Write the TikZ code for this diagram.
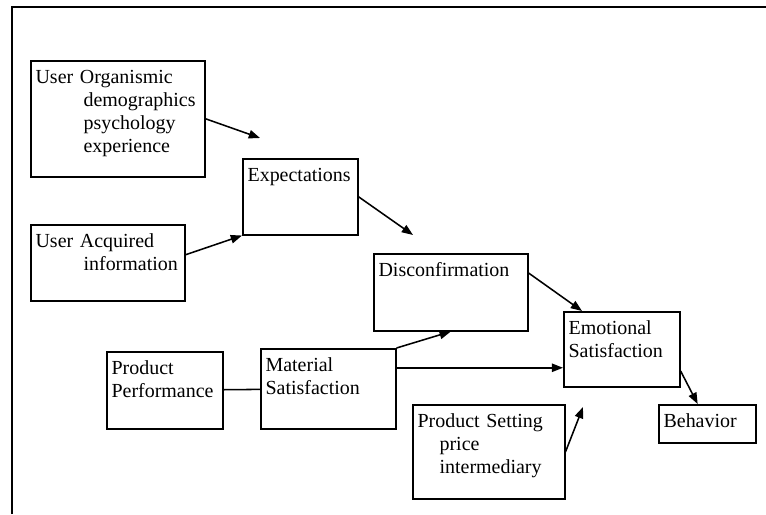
\documentclass[tikz,border=0pt]{standalone}
\usepackage{fontspec}
\setmainfont{Liberation Serif}
\usetikzlibrary{
    arrows.meta,
    positioning
}
\tikzset{
    >={Triangle[length=8pt,width=6pt]},
    box/.style 2 args={draw, anchor=north west, align=left,
        inner xsep=0.12cm, inner ysep=0.1cm,
        text width=#1, text height=0.475cm, text depth=#2,
        font=\fontsize{14.2}{16.3}\selectfont},
}

\begin{document}
\begin{tikzpicture}[line width=1.1pt]
   \useasboundingbox (0,0) rectangle (19.15,12.85);
   \draw (0.3,0) |- (19.15,12.675);
   \node[box={4.11cm}{2.225cm}] (uo) at (0.75,11.35) {User Organismic\\\hspace*{1.2cm}demographics\\\hspace*{1.2cm}psychology\\\hspace*{1.2cm}experience};
   \node[box={2.635cm}{1.225cm}] (ex) at (6.05,8.9) {Expectations};
   \node[box={3.61cm}{1.225cm}] (ua) at (0.75,7.25) {User Acquired\\\hspace*{1.2cm}information};
   \node[box={3.61cm}{1.25cm}] (dc) at (9.325,6.525) {Disconfirmation};
   \node[box={2.66cm}{1.2cm}] (es) at (14.075,5.075) {Emotional\\Satisfaction};
   \node[box={2.66cm}{1.25cm}] (pp) at (2.65,4.075) {Product\\Performance};
   \node[box={3.135cm}{1.325cm}] (ms) at (6.5,4.15) {Material\\Satisfaction};
   \node[box={3.56cm}{1.675cm}] (ps) at (10.3,2.75) {Product Setting\\\hspace*{0.55cm}price\\\hspace*{0.55cm}intermediary};
   \node[box={2.185cm}{0.275cm}] (bh) at (16.45,2.75) {Behavior};
   \coordinate (uo_tip) at (6.5,9.4);
   \coordinate (ex_tip) at (10.325,6.975);
   \coordinate (ps_tip) at (14.575,2.675);
    \path[->]
    (uo.east) edge (uo_tip)
    ([yshift=0.2cm]ua.east) edge (ex.south west)
    (ex.east) edge (ex_tip)
    ([yshift=-0.5cm]dc.north east) edge ([xshift=0.475cm]es.north west)
    (ms.north east) edge (dc.south)
    ([yshift=0.525cm]ms.east) edge ([yshift=0.525cm]ms.east -| es.west)
    (ps.east) edge (ps_tip)
    ([yshift=-0.54cm]es.east) edge ([xshift=-0.24cm]bh.north);
    \path (pp) edge (ms);
\end{tikzpicture}
\end{document}
